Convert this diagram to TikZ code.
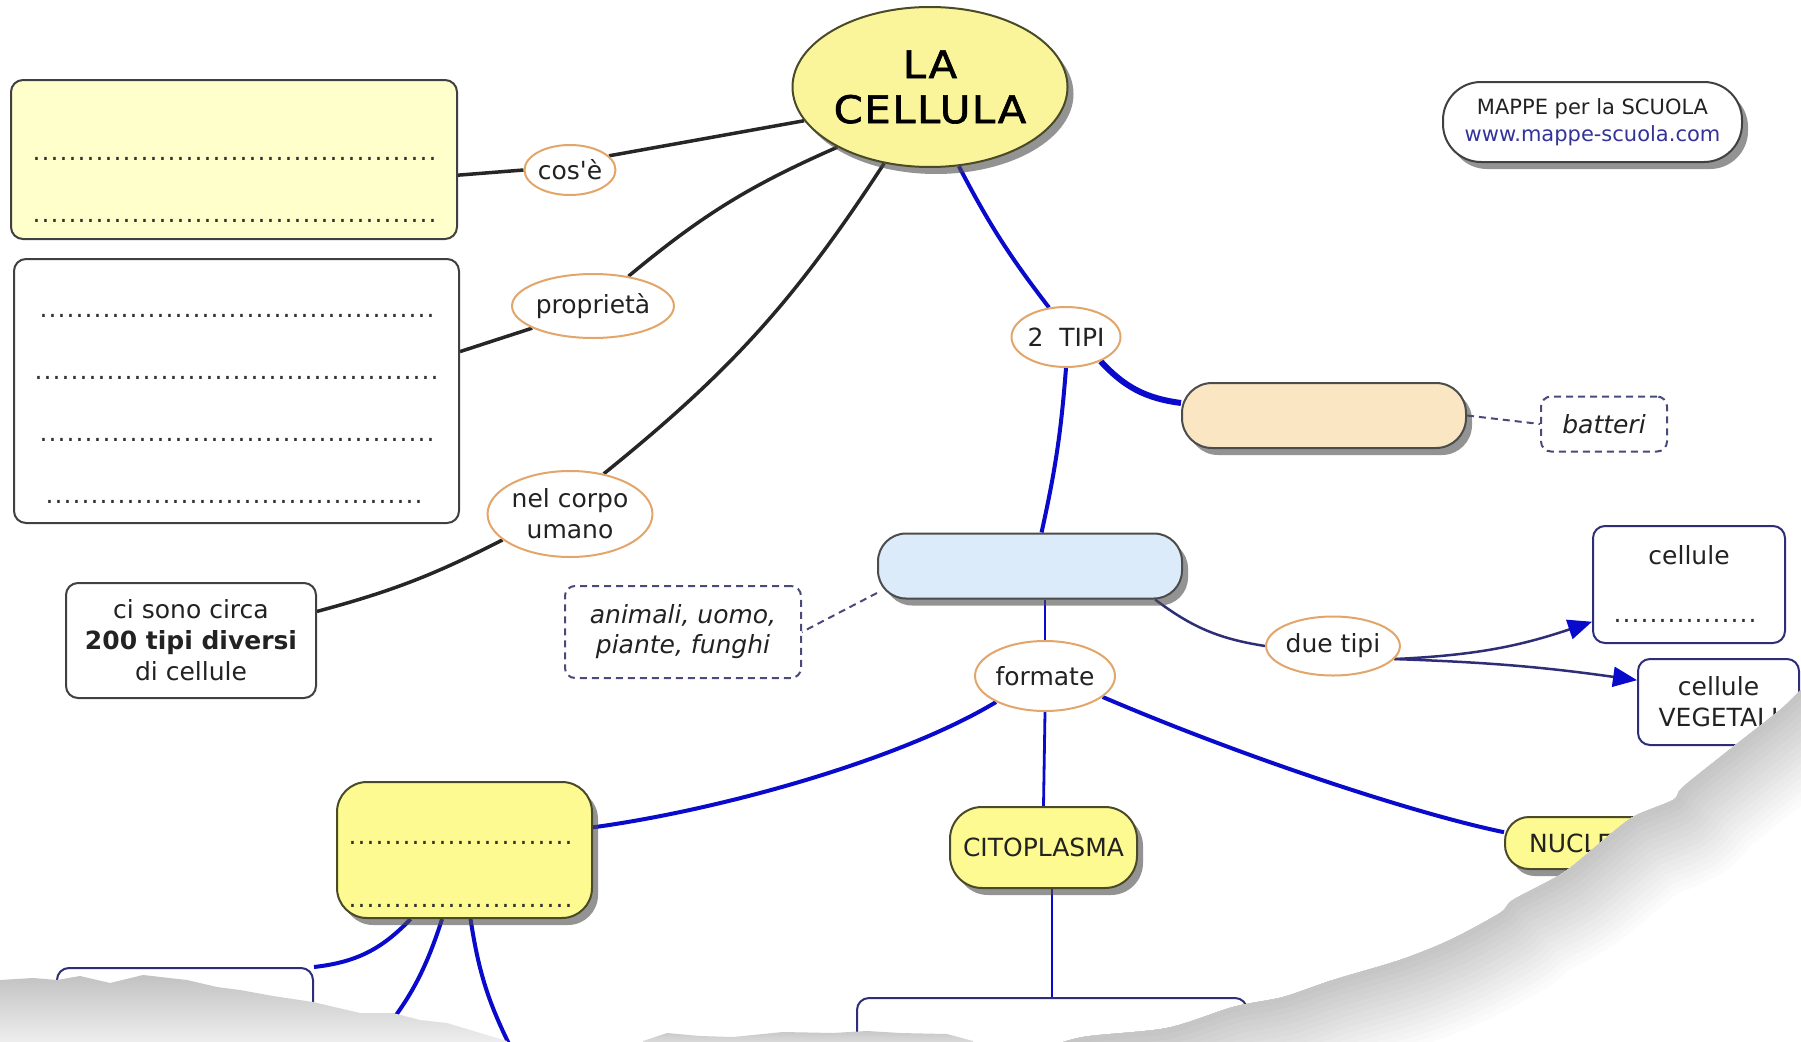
\documentclass[tikz,border=0pt]{standalone}
\usepackage{fontspec}
\setmainfont{DejaVu Sans}
\newfontfamily\basefont{DejaVu Sans}[Ligatures=TeXOff]
\newfontfamily\titlefont{DejaVu Sans}[FakeStretch=1.1,FakeBold=1.6,LetterSpace=4]
\usetikzlibrary{shapes.geometric,shapes.misc,shadows,arrows.meta}
\definecolor{cellyel}{HTML}{FAF59A}
\definecolor{paleyel}{HTML}{FFFFCC}
\definecolor{boxyel}{HTML}{FCFA90}
\definecolor{peach}{HTML}{FAE6C3}
\definecolor{lblue}{HTML}{DCEBFA}
\definecolor{linkor}{HTML}{E2A66A}
\definecolor{olive}{HTML}{4A4A28}
\definecolor{navy}{HTML}{2E2E78}
\definecolor{cblue}{HTML}{0A0ACC}
\definecolor{dashc}{HTML}{4A4A7A}
\definecolor{txt}{HTML}{222222}
\definecolor{urlc}{HTML}{333399}
\newcommand\dotrow[1]{\hbox to #1{\leaders\hbox to 9pt{\hss.\hss}\hfill}}
\pgfdeclarelayer{back}
\pgfdeclarelayer{lines}
\pgfdeclarelayer{front}
\pgfsetlayers{back,lines,main,front}
\begin{document}
\begin{tikzpicture}[x=1pt,y=-1pt,
  font=\basefont\fontsize{25}{31}\selectfont, text=txt,
  shadowed/.style={drop shadow={shadow xshift=6pt,shadow yshift=-7pt,fill=black!70,opacity=0.6}},
  linkph/.style={ellipse,draw=linkor,line width=2pt,fill=white,inner sep=0pt},
  plainbox/.style={rectangle,rounded corners=12pt,draw=black!75,line width=2pt,fill=white,inner sep=0pt},
  navybox/.style={rectangle,rounded corners=12pt,draw=navy,line width=2pt,fill=white,inner sep=0pt},
  dashbox/.style={rectangle,rounded corners=10pt,draw=dashc,dash pattern=on 7pt off 5pt,line width=2pt,fill=white,inner sep=0pt,font=\basefont\itshape\fontsize{25}{30}\selectfont},
  yelpill/.style={rectangle,draw=olive,line width=2pt,fill=boxyel,inner sep=0pt,shadowed},
  dotsrow/.style={inner sep=0pt,text=black!80},
  blk/.style={draw=black!85,line width=3.5pt},
  blu/.style={draw=cblue,line width=4pt},
  thinblu/.style={draw=cblue,line width=2.8pt},
  navyline/.style={draw=navy,line width=2.5pt},
  dashline/.style={draw=dashc,line width=2pt,dash pattern=on 7pt off 5pt},
  arrowtip/.style={-{Triangle[length=24pt,width=20pt,color=cblue]}},
]
\useasboundingbox (0,0) rectangle (1801,1041);
\begin{pgfonlayer}{back}
\fill[white] (0,0) rectangle (1801,1041);
\end{pgfonlayer}

% ---------- nodes ----------
\node[ellipse,draw=olive,line width=2pt,fill=cellyel,minimum width=275pt,minimum height=160pt,inner sep=0pt,align=center,shadowed,text=black,font=\titlefont\fontsize{38}{45}\selectfont] (cell) at (930,87) {LA\\CELLULA};

\node[plainbox,fill=paleyel,minimum width=446pt,minimum height=159pt] (what) at (234,159.5) {};
\node[dotsrow] (what1) at (237,159) {\dotrow{410pt}};
\node[dotsrow] (what2) at (237,221) {\dotrow{410pt}};

\node[plainbox,minimum width=445pt,minimum height=264pt] (pbox) at (236.5,391) {};
\node[dotsrow] (p1) at (238,316) {\dotrow{398pt}};
\node[dotsrow] (p2) at (238,378) {\dotrow{408pt}};
\node[dotsrow] (p3) at (238,440) {\dotrow{398pt}};
\node[dotsrow] (p4) at (237.5,502) {\dotrow{385pt}};

\node[linkph,minimum width=90pt,minimum height=50pt] (cose) at (570,170) {cos'è};
\node[linkph,minimum width=139pt,minimum height=64pt] (prop) at (593,306) {proprietà};
\node[linkph,minimum width=153pt,minimum height=86pt,align=center] (corpo) at (570,514) {nel corpo\\umano};
\node[plainbox,minimum width=250pt,minimum height=115pt,align=center] (circa) at (191,640.5) {ci sono circa\\\textbf{200 tipi diversi}\\di cellule};

\node[linkph,minimum width=109pt,minimum height=60pt] (tipi) at (1066,337) {2\hspace{16pt}TIPI};
\node[rectangle,rounded corners=30pt,draw=black!70,line width=2pt,fill=peach,minimum width=284pt,minimum height=65pt,inner sep=0pt,shadowed] (prok) at (1324,415.5) {};
\node[dashbox,minimum width=126pt,minimum height=55pt] (batt) at (1604,424) {batteri};

\node[rectangle,rounded corners=28pt,draw=black!70,line width=2pt,fill=lblue,minimum width=304pt,minimum height=65pt,inner sep=0pt,shadowed] (euk) at (1030,566) {};
\node[dashbox,minimum width=236pt,minimum height=92pt,align=center] (anim) at (683,632) {animali, uomo,\\piante, funghi};

\node[linkph,minimum width=140pt,minimum height=70pt] (form) at (1045,676) {formate};
\node[linkph,minimum width=115pt,minimum height=59pt] (due) at (1333,646) {due tipi};

\node[navybox,minimum width=192pt,minimum height=117pt] (cellA) at (1689,584.5) {};
\node[inner sep=0pt] (cellAt) at (1689,555) {cellule};
\node[dotsrow] (cellAd) at (1689,621) {\dotrow{152pt}};
\node[navybox,minimum width=161pt,minimum height=86pt,align=center] (veg) at (1718.5,702) {cellule\\VEGETALI};

\node[yelpill,rounded corners=30pt,minimum width=255pt,minimum height=136pt] (yb) at (464.5,850) {};
\node[dotsrow] (yb1) at (462.5,843) {\dotrow{229pt}};
\node[dotsrow] (yb2) at (462.5,906) {\dotrow{229pt}};

\node[yelpill,rounded corners=32pt,minimum width=187pt,minimum height=81pt] (cito) at (1043.5,847.5) {CITOPLASMA};
\node[yelpill,rounded corners=24pt,minimum width=152pt,minimum height=52pt] (nucl) at (1581,843) {NUCLEO};

\node[navybox,minimum width=256pt,minimum height=140pt] (memb) at (185,1038) {};
\node[navybox,minimum width=390pt,minimum height=140pt] (bottom) at (1052,1068) {};

\node[rectangle,rounded corners=38pt,draw=black!75,line width=2pt,fill=white,minimum width=299pt,minimum height=80pt,inner sep=0pt,shadowed,align=center,font=\basefont\fontsize{21}{27}\selectfont] (mappe) at (1592.5,122) {MAPPE per la SCUOLA\\\textcolor{urlc}{www.mappe-scuola.com}};

\coordinate (hid1) at (366,1052);
\coordinate (hid2) at (513,1052);

% ---------- connectors ----------
\begin{pgfonlayer}{lines}
\draw[blk] (cell.195) -- (cose.20);
\draw[blk] (cose.west) -- (what.-4);
\draw[blk] (cell.213) to[bend right=8] (prop.40);
\draw[blk] (prop.200) -- (pbox.10);
\draw[blk] (cell.239) to[bend left=9] (corpo.50);
\draw[blk] (corpo.201) to[bend left=6] (circa.13);

\draw[blu] (cell.290) to[bend right=5] (tipi.120);
\draw[blu] (tipi.south) to[bend left=4] (euk.71);
\draw[draw=cblue,line width=6pt] (tipi.325) to[bend right=20] (prok.175);
\draw[dashline] (prok.east) -- (batt.west);

\draw[dashline] (euk.190) -- (anim.east);
\draw[thinblu] (euk.south -| form.north) -- (form.north);
\draw[navyline] (euk.-15) to[bend right=14] (due.west);
\draw[navyline,arrowtip] (due.-12) to[bend right=8] (cellA.201);
\draw[navyline,arrowtip] (due.-12) to[bend left=3] (veg.165);

\draw[blu] (form.208) .. controls (900,760) and (720,810) .. (yb.10);
\draw[thinblu] (form.south) -- (cito.north);
\draw[blu] (form.-20) .. controls (1250,760) and (1420,815) .. (nucl.172);
\draw[thinblu] (cito.south -| bottom.north) -- (bottom.north);

\draw[blu] (yb.232) to[bend left=20] (memb.north east);
\draw[blu] (yb.252) to[bend left=12] (hid1);
\draw[blu] (yb.275) to[bend right=9] (hid2);
\end{pgfonlayer}

% ---------- torn paper ----------
\begin{pgfonlayer}{front}
\shade[top color=black!24,bottom color=black!6]
  (0,980) -- (33,978) -- (57,980) -- (80,976) -- (110,983) -- (143,975) -- (187,980) -- (217,987) -- (240,990) -- (273,996) -- (313,1002) -- (360,1013) -- (393,1013) -- (420,1020) -- (447,1023) -- (480,1033) -- (507,1041) -- (507,1045) -- (0,1045) -- cycle;
\shade[top color=black!22,bottom color=black!12]
  (643,1045) -- (643,1041) -- (667,1033) -- (700,1036) -- (733,1037) -- (783,1032) -- (833,1033) -- (867,1031) -- (900,1033) -- (947,1034) -- (973,1041) -- (973,1045) -- cycle;
\begin{scope}
\clip plot[smooth,tension=0.5] coordinates {(1806,686) (1801,690) (1780,710) (1733,747) (1683,787) (1673,800) (1633,817) (1600,843) (1563,873) (1513,900) (1500,913) (1450,940) (1400,960) (1333,980) (1283,997) (1233,1007) (1167,1028) (1083,1037) (1040,1050)} -- (1810,1050) -- cycle;
\fill[white] (1000,650) rectangle (1810,1050);
\foreach \i in {1,...,16}{
  \pgfmathsetmacro\w{(17-\i)*11}
  \pgfmathsetmacro\c{\i*1.4}
  \draw[line width=\w pt,draw=black!\c,line join=round]
    plot[smooth,tension=0.5] coordinates {(1806,686) (1801,690) (1780,710) (1733,747) (1683,787) (1673,800) (1633,817) (1600,843) (1563,873) (1513,900) (1500,913) (1450,940) (1400,960) (1333,980) (1283,997) (1233,1007) (1167,1028) (1083,1037) (1040,1050)};
}
\end{scope}
\end{pgfonlayer}
\end{tikzpicture}
\end{document}
